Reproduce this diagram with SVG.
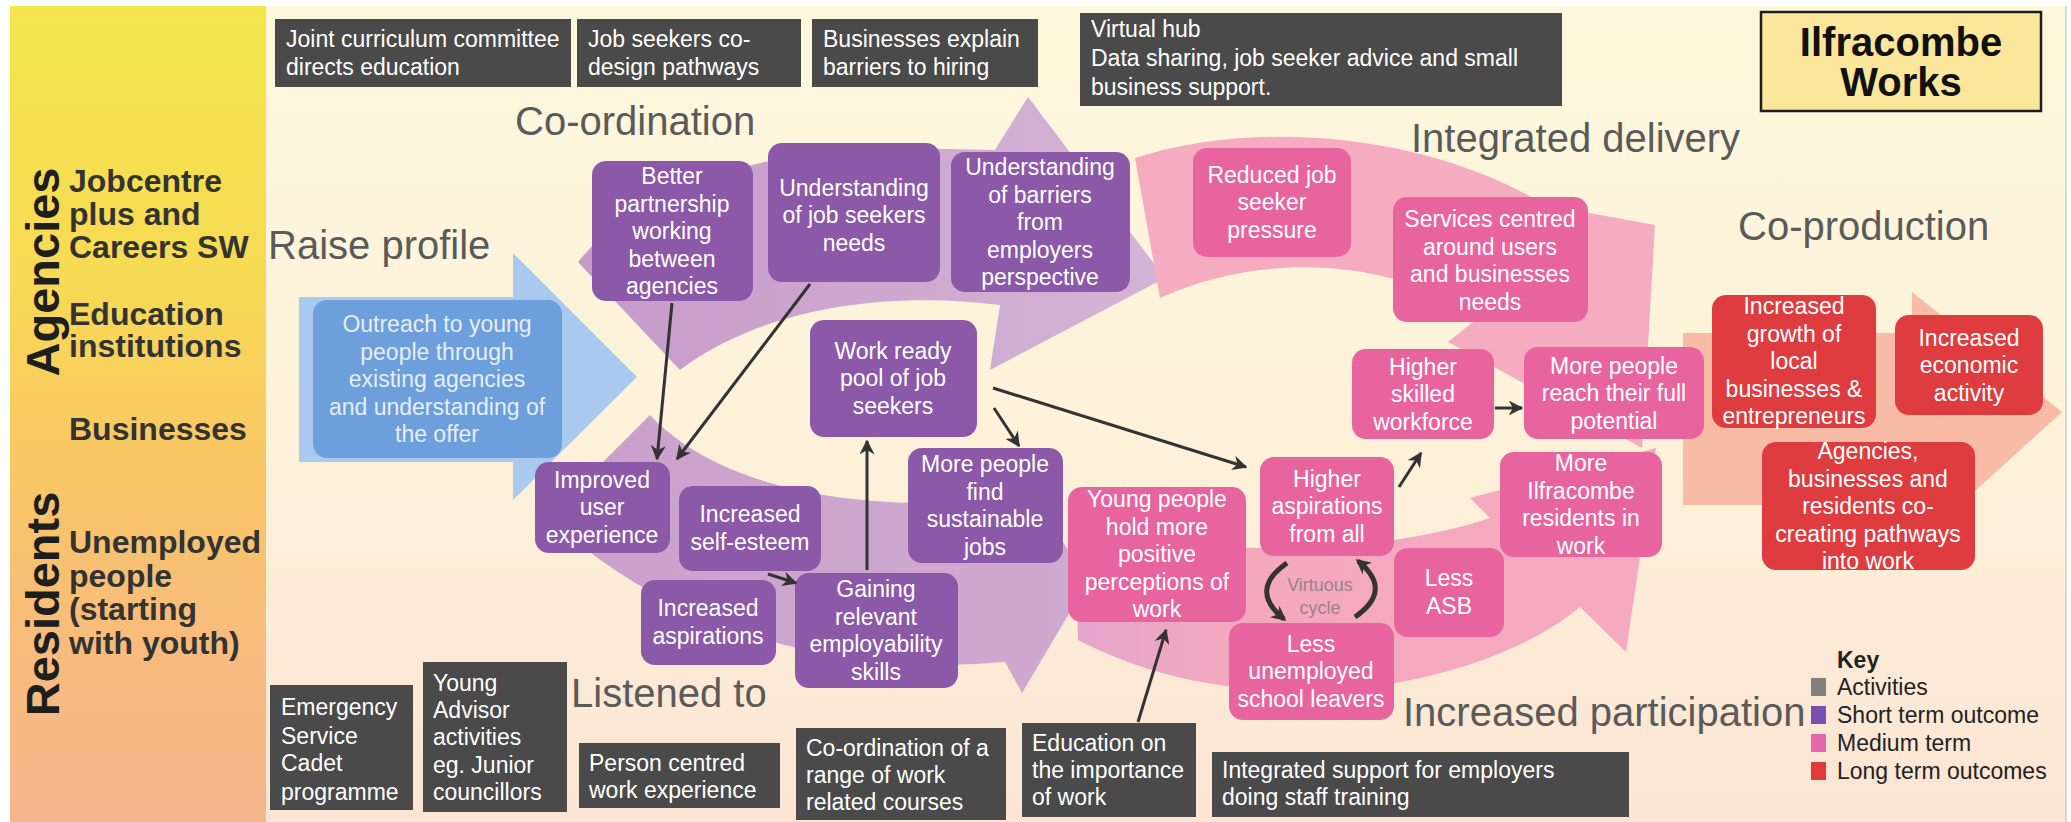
<svg xmlns="http://www.w3.org/2000/svg" width="2071" height="822" viewBox="0 0 2071 822">
<defs>
  <linearGradient id="bgGrad" x1="0" y1="0" x2="0" y2="1">
    <stop offset="0" stop-color="#fdf8dd"/>
    <stop offset="0.6" stop-color="#fdf0d9"/>
    <stop offset="1" stop-color="#fbe4d3"/>
  </linearGradient>
  <linearGradient id="stripGrad" x1="0" y1="0" x2="0" y2="1">
    <stop offset="0" stop-color="#f3e64b"/>
    <stop offset="0.35" stop-color="#f7d955"/>
    <stop offset="0.55" stop-color="#f9c764"/>
    <stop offset="0.8" stop-color="#f7bb7e"/>
    <stop offset="1" stop-color="#f5b68c"/>
  </linearGradient>
  <linearGradient id="purpleUp" x1="0" y1="0" x2="1" y2="0">
    <stop offset="0" stop-color="#c59bc8"/>
    <stop offset="1" stop-color="#d4b4d6"/>
  </linearGradient>
  <linearGradient id="purpleLow" x1="0" y1="0" x2="1" y2="0">
    <stop offset="0" stop-color="#c9a0cb"/>
    <stop offset="1" stop-color="#cfaad0"/>
  </linearGradient>
  <linearGradient id="pinkLow" x1="0" y1="0" x2="1" y2="0">
    <stop offset="0" stop-color="#e2a6cb"/>
    <stop offset="0.25" stop-color="#f3a8c0"/>
    <stop offset="1" stop-color="#f5aabf"/>
  </linearGradient>
  <marker id="arr" viewBox="0 0 10 10" refX="9" refY="5" markerWidth="5" markerHeight="5" orient="auto" markerUnits="strokeWidth">
    <path d="M0,0 L10,5 L0,10 L3,5 z" fill="#333"/>
  </marker>
  <marker id="arrSmall" viewBox="0 0 10 10" refX="8" refY="5" markerWidth="3" markerHeight="3" orient="auto" markerUnits="strokeWidth">
    <path d="M0,0 L10,5 L0,10 L3,5 z" fill="#333"/>
  </marker>
  <style>
    text{font-family:'Liberation Sans',Arial,Helvetica,sans-serif}
    .act rect{fill:#4a4a4a}
    .act text{font-size:23px;fill:#ffffff}
    .node rect{rx:14px;ry:14px}
    .node text{font-size:23px;fill:#ffffff;text-anchor:middle}
    .purple rect{fill:#8b59a8}
    .pink rect{fill:#e8649f}
    .red rect{fill:#de3c3f}
    .blue rect{fill:#6c9fdb}
    .blue text{fill:#e6eefa}
    .phase{font-size:40px;fill:#5a5a5a}
    .side{font-size:32px;font-weight:bold;fill:#333}
    .vert{font-size:47px;font-weight:bold;fill:#1e1e1e;text-anchor:middle}
    .conn line{stroke:#333;stroke-width:3;fill:none;marker-end:url(#arr)}
    .conn path{stroke:#333;stroke-width:5;fill:none;marker-end:url(#arrSmall)}
    .key text{font-size:23px;fill:#222}
  </style>
</defs>

<!-- canvas -->
<rect width="2071" height="822" fill="#ffffff"/>
<rect x="10" y="6" width="2056" height="816" fill="url(#bgGrad)"/>
<line x1="2066" y1="6" x2="2066" y2="822" stroke="#d8d8d8" stroke-width="2"/>
<rect x="10" y="6" width="256" height="816" fill="url(#stripGrad)"/>

<!-- stakeholder column -->
<g id="stakeholders">
  <text class="vert" transform="translate(59,272) rotate(-90)">Agencies</text>
  <text class="vert" transform="translate(59,604) rotate(-90)">Residents</text>
  <text class="side" x="69" y="192">Jobcentre</text>
  <text class="side" x="69" y="225">plus and</text>
  <text class="side" x="69" y="258">Careers SW</text>
  <text class="side" x="69" y="325">Education</text>
  <text class="side" x="69" y="357">institutions</text>
  <text class="side" x="69" y="440">Businesses</text>
  <text class="side" x="69" y="553">Unemployed</text>
  <text class="side" x="69" y="587">people</text>
  <text class="side" x="69" y="620">(starting</text>
  <text class="side" x="69" y="654">with youth)</text>
</g>

<!-- curved process bands -->
<g id="bands">
  <path id="band-coordination" fill="url(#purpleUp)" d="M 578 262 C 640 185, 760 150, 900 148 L 995 150 L 1028 97 L 1165 278 L 990 370 L 1000 305 C 880 290, 760 310, 680 370 Z"/>
  <path id="band-integrated" fill="#f5abc0" d="M 1135 158 C 1260 118, 1430 135, 1545 205 L 1655 225 L 1642 448 L 1448 342 L 1478 318 C 1400 262, 1270 248, 1160 298 Z"/>
  <path id="band-listened" fill="url(#purpleLow)" d="M 650 415 C 720 490, 860 512, 1000 500 L 1002 462 L 1090 578 L 1022 693 L 1005 662 C 850 675, 680 640, 548 517 Z"/>
  <path id="band-participation" fill="url(#pinkLow)" d="M 1075 522 C 1200 560, 1380 555, 1490 518 L 1470 498 L 1656 448 L 1626 652 L 1580 607 C 1480 690, 1250 730, 1078 640 Z"/>
  <path id="band-coproduction" fill="#f8bca6" d="M 1683 333 L 1912 333 L 1912 292 L 2062 412 L 1912 548 L 1912 505 L 1683 505 Z"/>
  <path id="band-raise" fill="#a9c9ef" d="M 299 297 L 513 297 L 513 253 L 637 377 L 513 500 L 513 462 L 299 462 Z"/>
</g>

<!-- phase labels -->
<g id="phases">
  <text class="phase" x="515" y="135">Co-ordination</text>
  <text class="phase" x="268" y="259">Raise profile</text>
  <text class="phase" x="1411" y="152">Integrated delivery</text>
  <text class="phase" x="1738" y="240">Co-production</text>
  <text class="phase" x="571" y="707">Listened to</text>
  <text class="phase" x="1403" y="726">Increased participation</text>
</g>

<!-- activities -->
<g id="act-curriculum" class="act"><rect x="275" y="19" width="296" height="68"/><text><tspan x="286" y="47">Joint curriculum committee</tspan><tspan x="286" y="75">directs education</tspan></text></g>
<g id="act-codesign" class="act"><rect x="577" y="19" width="224" height="68"/><text><tspan x="588" y="47">Job seekers co-</tspan><tspan x="588" y="75">design pathways</tspan></text></g>
<g id="act-barriers" class="act"><rect x="812" y="19" width="226" height="68"/><text><tspan x="823" y="47">Businesses explain</tspan><tspan x="823" y="75">barriers to hiring</tspan></text></g>
<g id="act-hub" class="act"><rect x="1080" y="13" width="482" height="93"/><text><tspan x="1091" y="37">Virtual hub</tspan><tspan x="1091" y="66">Data sharing, job seeker advice and small</tspan><tspan x="1091" y="95">business support.</tspan></text></g>
<g id="act-cadet" class="act"><rect x="270" y="685" width="143" height="125"/><text><tspan x="281" y="715">Emergency</tspan><tspan x="281" y="744">Service</tspan><tspan x="281" y="771">Cadet</tspan><tspan x="281" y="800">programme</tspan></text></g>
<g id="act-advisor" class="act"><rect x="423" y="662" width="144" height="150"/><text><tspan x="433" y="691">Young</tspan><tspan x="433" y="718">Advisor</tspan><tspan x="433" y="745">activities</tspan><tspan x="433" y="773">eg. Junior</tspan><tspan x="433" y="800">councillors</tspan></text></g>
<g id="act-placement" class="act"><rect x="579" y="743" width="201" height="65"/><text><tspan x="589" y="771">Person centred</tspan><tspan x="589" y="798">work experience</tspan></text></g>
<g id="act-courses" class="act"><rect x="796" y="728" width="210" height="92"/><text><tspan x="806" y="756">Co-ordination of a</tspan><tspan x="806" y="783">range of work</tspan><tspan x="806" y="810">related courses</tspan></text></g>
<g id="act-education" class="act"><rect x="1022" y="723" width="174" height="94"/><text><tspan x="1032" y="751">Education on</tspan><tspan x="1032" y="778">the importance</tspan><tspan x="1032" y="805">of work</tspan></text></g>
<g id="act-training" class="act"><rect x="1212" y="752" width="417" height="65"/><text><tspan x="1222" y="778">Integrated support for employers</tspan><tspan x="1222" y="805">doing staff training</tspan></text></g>

<!-- title -->
<g id="title">
  <rect x="1761" y="12" width="280" height="99" fill="#fbe79b" stroke="#1e1e1e" stroke-width="2.5"/>
  <text x="1901" y="56" font-size="40" font-weight="bold" fill="#111" text-anchor="middle">Ilfracombe</text>
  <text x="1901" y="96" font-size="40" font-weight="bold" fill="#111" text-anchor="middle">Works</text>
</g>

<!-- raise profile -->
<g id="n-outreach" class="node blue"><rect x="313" y="300" width="249" height="158"/><text><tspan x="437" y="332">Outreach to young</tspan><tspan x="437" y="359.5">people through</tspan><tspan x="437" y="387">existing agencies</tspan><tspan x="437" y="414.5">and understanding of</tspan><tspan x="437" y="442">the offer</tspan></text></g>

<!-- short term outcomes -->
<g id="n-partnership" class="node purple"><rect x="592" y="161" width="161" height="140"/><text><tspan x="672" y="184">Better</tspan><tspan x="672" y="211.5">partnership</tspan><tspan x="672" y="239">working</tspan><tspan x="672" y="266.5">between</tspan><tspan x="672" y="294">agencies</tspan></text></g>
<g id="n-seekerneeds" class="node purple"><rect x="768" y="143" width="172" height="139"/><text><tspan x="854" y="195.5">Understanding</tspan><tspan x="854" y="223">of job seekers</tspan><tspan x="854" y="250.5">needs</tspan></text></g>
<g id="n-employerview" class="node purple"><rect x="951" y="152" width="179" height="140"/><text><tspan x="1040" y="175">Understanding</tspan><tspan x="1040" y="202.5">of barriers</tspan><tspan x="1040" y="230">from</tspan><tspan x="1040" y="257.5">employers</tspan><tspan x="1040" y="285">perspective</tspan></text></g>
<g id="n-workready" class="node purple"><rect x="810" y="320" width="167" height="117"/><text><tspan x="893" y="358.5">Work ready</tspan><tspan x="893" y="386">pool of job</tspan><tspan x="893" y="413.5">seekers</tspan></text></g>
<g id="n-userexp" class="node purple"><rect x="535" y="462" width="135" height="91"/><text><tspan x="602" y="487.5">Improved</tspan><tspan x="602" y="515">user</tspan><tspan x="602" y="542.5">experience</tspan></text></g>
<g id="n-selfesteem" class="node purple"><rect x="679" y="486" width="142" height="85"/><text><tspan x="750" y="522">Increased</tspan><tspan x="750" y="550">self-esteem</tspan></text></g>
<g id="n-aspirations" class="node purple"><rect x="641" y="580" width="135" height="85"/><text><tspan x="708" y="616">Increased</tspan><tspan x="708" y="644">aspirations</tspan></text></g>
<g id="n-skills" class="node purple"><rect x="795" y="573" width="163" height="115"/><text><tspan x="876" y="597">Gaining</tspan><tspan x="876" y="624.5">relevant</tspan><tspan x="876" y="652">employability</tspan><tspan x="876" y="679.5">skills</tspan></text></g>
<g id="n-sustainable" class="node purple"><rect x="908" y="448" width="155" height="115"/><text><tspan x="985" y="472">More people</tspan><tspan x="985" y="499.5">find</tspan><tspan x="985" y="527">sustainable</tspan><tspan x="985" y="554.5">jobs</tspan></text></g>

<!-- medium term outcomes -->
<g id="n-pressure" class="node pink"><rect x="1193" y="148" width="158" height="109"/><text><tspan x="1272" y="182.5">Reduced job</tspan><tspan x="1272" y="210">seeker</tspan><tspan x="1272" y="237.5">pressure</tspan></text></g>
<g id="n-services" class="node pink"><rect x="1393" y="197" width="195" height="125"/><text><tspan x="1490" y="227">Services centred</tspan><tspan x="1490" y="254.5">around users</tspan><tspan x="1490" y="282">and businesses</tspan><tspan x="1490" y="309.5">needs</tspan></text></g>
<g id="n-workforce" class="node pink"><rect x="1352" y="349" width="142" height="90"/><text><tspan x="1423" y="374.5">Higher</tspan><tspan x="1423" y="402">skilled</tspan><tspan x="1423" y="429.5">workforce</tspan></text></g>
<g id="n-potential" class="node pink"><rect x="1524" y="347" width="180" height="92"/><text><tspan x="1614" y="373.5">More people</tspan><tspan x="1614" y="401">reach their full</tspan><tspan x="1614" y="428.5">potential</tspan></text></g>
<g id="n-perceptions" class="node pink"><rect x="1068" y="487" width="178" height="135"/><text><tspan x="1157" y="507">Young people</tspan><tspan x="1157" y="534.5">hold more</tspan><tspan x="1157" y="562">positive</tspan><tspan x="1157" y="589.5">perceptions of</tspan><tspan x="1157" y="617">work</tspan></text></g>
<g id="n-higheraspire" class="node pink"><rect x="1260" y="457" width="134" height="99"/><text><tspan x="1327" y="486.5">Higher</tspan><tspan x="1327" y="514">aspirations</tspan><tspan x="1327" y="541.5">from all</tspan></text></g>
<g id="n-leavers" class="node pink"><rect x="1229" y="623" width="165" height="97"/><text><tspan x="1311" y="651.5">Less</tspan><tspan x="1311" y="679">unemployed</tspan><tspan x="1311" y="706.5">school leavers</tspan></text></g>
<g id="n-asb" class="node pink"><rect x="1394" y="548" width="110" height="89"/><text><tspan x="1449" y="586">Less</tspan><tspan x="1449" y="613.5">ASB</tspan></text></g>
<g id="n-residents" class="node pink"><rect x="1500" y="452" width="162" height="105"/><text><tspan x="1581" y="471">More</tspan><tspan x="1581" y="498.5">Ilfracombe</tspan><tspan x="1581" y="526">residents in</tspan><tspan x="1581" y="553.5">work</tspan></text></g>

<!-- long term outcomes -->
<g id="n-growth" class="node red"><rect x="1712" y="295" width="164" height="133"/><text><tspan x="1794" y="314">Increased</tspan><tspan x="1794" y="341.5">growth of</tspan><tspan x="1794" y="369">local</tspan><tspan x="1794" y="396.5">businesses &amp;</tspan><tspan x="1794" y="424">entrepreneurs</tspan></text></g>
<g id="n-economy" class="node red"><rect x="1895" y="315" width="148" height="100"/><text><tspan x="1969" y="345.5">Increased</tspan><tspan x="1969" y="373">economic</tspan><tspan x="1969" y="400.5">activity</tspan></text></g>
<g id="n-cocreate" class="node red"><rect x="1762" y="442" width="213" height="128"/><text><tspan x="1868" y="459">Agencies,</tspan><tspan x="1868" y="486.5">businesses and</tspan><tspan x="1868" y="514">residents co-</tspan><tspan x="1868" y="541.5">creating pathways</tspan><tspan x="1868" y="569">into work</tspan></text></g>

<!-- connectors -->
<g id="connectors" class="conn">
  <line x1="672" y1="303" x2="657" y2="459"/>
  <line x1="810" y1="284" x2="677" y2="459"/>
  <line x1="867" y1="570" x2="867" y2="441"/>
  <line x1="994" y1="408" x2="1019" y2="446"/>
  <line x1="993" y1="388" x2="1246" y2="467"/>
  <line x1="768" y1="574" x2="796" y2="583"/>
  <line x1="1399" y1="487" x2="1421" y2="453"/>
  <line x1="1495" y1="408" x2="1522" y2="408"/>
  <line x1="1138" y1="722" x2="1166" y2="630"/>
  <path d="M 1287 563 Q 1248 590 1284 619"/>
  <path d="M 1355 617 Q 1394 590 1358 561"/>
</g>
<g id="cycle-label">
  <text x="1320" y="591" font-size="18" fill="#9b8189" text-anchor="middle">Virtuous</text>
  <text x="1320" y="614" font-size="18" fill="#9b8189" text-anchor="middle">cycle</text>
</g>

<!-- legend -->
<g id="key" class="key">
  <text x="1837" y="668" font-weight="bold">Key</text>
  <rect x="1811" y="678" width="15" height="18" fill="#808080"/>
  <text x="1837" y="695">Activities</text>
  <rect x="1811" y="706" width="15" height="18" fill="#7b4fb0"/>
  <text x="1837" y="723">Short term outcome</text>
  <rect x="1811" y="734" width="15" height="18" fill="#e468ad"/>
  <text x="1837" y="751">Medium term</text>
  <rect x="1811" y="762" width="15" height="18" fill="#e03a3a"/>
  <text x="1837" y="779">Long term outcomes</text>
</g>
</svg>
